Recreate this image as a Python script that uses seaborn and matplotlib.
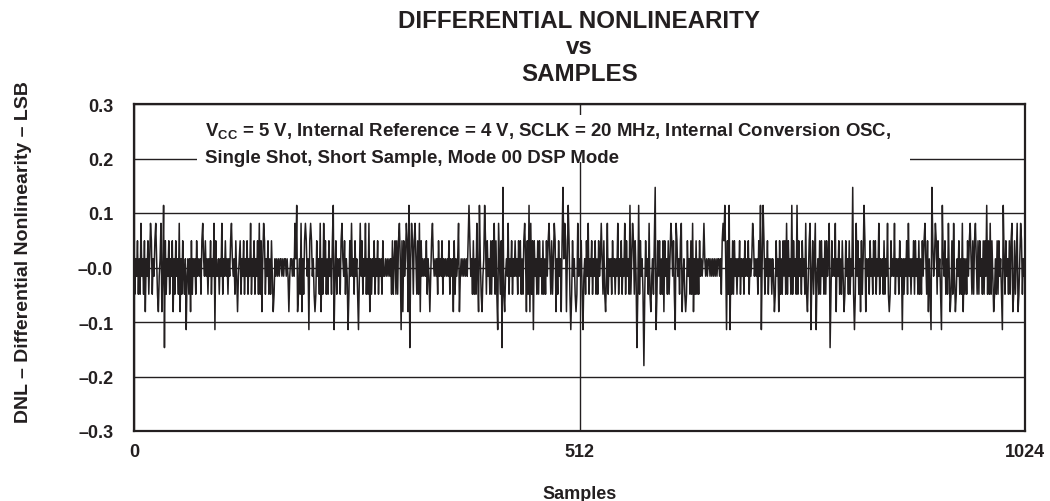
import numpy as np
import pandas as pd
import matplotlib
matplotlib.use("Agg")
import matplotlib.pyplot as plt
from matplotlib.patches import Rectangle
import seaborn as sns

# DNL level codes (quantised steps seen on the trace)
code_levels = {'0': -0.180, '1': -0.147, '2': -0.114, '3': -0.081, '4': -0.049,
               '5': -0.016, '6': 0.016, '7': 0.049, '8': 0.081, '9': 0.114, 'a': 0.147}

# background texture of the trace, 128 samples per segment
seg0 = ("74657464 75647465 74657465 74647564"
        "75647465 74657464 75647564 75467564"
        "65746564 75656474 65756465 74656475"
        "56465746 57564657 46564756 56746574")
seg1 = ("65746574 65746574 64756474 65746475"
        "74656565 66565665 65656656 56657464"
        "75647475 64747564 74756474 64757464"
        "75647465 74656475 65746564 75656475")
seg2 = ("64756574 65746475 64657465 74656475"
        "56565656 47467474 75647475 64747564"
        "74756474 64756565 74656575 65656475"
        "65746565 65746565 74656565 65656565")
seg3 = ("74756474 64757464 75647475 64747564"
        "74756474 64656574 65746575 64757464"
        "75647475 64747564 74756474 64757464"
        "74657464 75647465 74657464 75646475")
seg4 = ("65746564 75646574 65746475 65647465"
        "74656475 64657465 74656475 64746574"
        "75647475 64747564 74756474 64757464"
        "74756474 64757464 75647475 64747564")
seg5 = ("74756474 64756565 65656656 56565656"
        "65647475 64747564 74756465 74656475"
        "65746564 75656475 64657465 74656465"
        "74756474 64757464 75647475 64747564")
seg6 = ("75647465 74657464 75647475 64747564"
        "64756574 65746475 64756474 65746475"
        "74657465 74656475 64757465 74656474"
        "65746475 65746564 75656465 74656465")
seg7 = ("74756474 64757464 75647475 64747564"
        "74657464 75647465 74657464 75646475"
        "75647475 64747564 74756474 64757464"
        "74756474 64756474 75647465 74657465")

# larger excursions (sample index)
up_081 = [8, 19, 25, 31, 52, 79, 92, 101, 112, 134, 144, 149, 185, 192, 197, 203, 214,
          218, 239, 250, 260, 266, 270, 305, 313, 319, 323, 328, 343, 373, 394, 414, 419,
          430, 449, 456, 477, 483, 495, 510, 522, 537, 544, 556, 564, 573, 592, 617, 623,
          629, 642, 655, 677, 711, 750, 772, 777, 783, 799, 806, 830, 856, 866, 874, 890,
          909, 921, 936, 942, 952, 961, 967, 984, 1009, 1015, 1019]
dn_081 = [13, 28, 32, 45, 53, 65, 119, 147, 160, 178, 188, 193, 208, 215, 271, 309, 315,
          329, 340, 367, 374, 396, 400, 426, 451, 455, 485, 491, 497, 508, 542, 594, 609,
          630, 634, 643, 736, 741, 774, 807, 816, 835, 841, 868, 913, 938, 944, 953, 988,
          1010, 1016]
up_114 = [34, 187, 229, 316, 385, 397, 403, 454, 499, 570, 580, 679, 684, 720, 723, 756,
          762, 839, 929, 980, 999]
dn_114 = [60, 93, 201, 230, 246, 258, 307, 418, 459, 502, 516, 600, 622, 681, 685, 721,
          778, 784, 828, 883, 916, 928, 998]
up_147 = [424, 493, 599, 826, 917]
dn_147 = [35, 317, 423, 578, 800]
dn_180 = [586]

y_ticks = [-0.3, -0.2, -0.1, 0.0, 0.1, 0.2, 0.3]
y_labels = ['\u20130.3', '\u20130.2', '\u20130.1', '\u20130.0', '0.1', '0.2', '0.3']
x_ticks = [0, 512, 1024]

codes = "".join([seg0, seg1, seg2, seg3, seg4, seg5, seg6, seg7]).replace(" ", "")
dnl = np.array([code_levels[c] for c in codes])
for idx, lvl in [(up_081, '8'), (dn_081, '3'), (up_114, '9'), (dn_114, '2'),
                 (up_147, 'a'), (dn_147, '1'), (dn_180, '0')]:
    dnl[idx] = code_levels[lvl]
df = pd.DataFrame({'Samples': np.arange(len(dnl)), 'DNL': dnl})

sns.set_style("white")
plt.rcParams['font.family'] = ['Liberation Sans', 'DejaVu Sans']
plt.rcParams['font.weight'] = 'bold'
plt.rcParams['mathtext.fontset'] = 'custom'
plt.rcParams['mathtext.rm'] = 'Liberation Sans:bold'
plt.rcParams['mathtext.it'] = 'Liberation Sans:bold'
plt.rcParams['mathtext.bf'] = 'Liberation Sans:bold'

ink = '#231f20'
fig = plt.figure(figsize=(10.5, 5.02), dpi=100)
ax = fig.add_axes([134/1050, 1 - 432/502, 891/1050, 327/502])

sns.lineplot(data=df, x='Samples', y='DNL', color=ink, lw=1.1, ax=ax, zorder=3)

ax.set_xlim(0, 1024)
ax.set_ylim(-0.3, 0.3)
ax.set_xticks(x_ticks)
ax.set_yticks(y_ticks)
ax.set_yticklabels(y_labels)
ax.grid(True, color=ink, lw=1.0)
ax.set_axisbelow(True)
ax.tick_params(axis='both', length=0, labelsize=13, colors=ink)
ax.tick_params(axis='y', pad=15)
ax.tick_params(axis='x', pad=9)
for s in ax.spines.values():
    s.set_linewidth(1.6)
    s.set_color(ink)

ax.set_xlabel('Samples', fontsize=13, fontweight='bold', color=ink, labelpad=18)
ax.set_ylabel('DNL \u2013 Differential Nonlinearity \u2013 LSB', fontsize=14,
              fontweight='bold', color=ink)
ax.yaxis.set_label_coords(-0.115, 0.55)

ax.add_patch(Rectangle((0.0707, 0.823), 0.80, 0.143, transform=ax.transAxes,
                       facecolor='white', edgecolor='none', zorder=2))
ax.text(0.0797, 0.95,
        'V$_{\\mathrm{CC}}$ = 5 V, Internal Reference = 4 V, SCLK = 20 MHz, Internal Conversion OSC,\n'
        'Single Shot, Short Sample, Mode 00 DSP Mode',
        transform=ax.transAxes, ha='left', va='top', fontsize=13.4, fontweight='bold',
        color=ink, zorder=4, linespacing=1.65)

fig.text(579.5/1050, 1 - 48/502, 'DIFFERENTIAL NONLINEARITY\nvs\nSAMPLES',
         ha='center', va='center', fontsize=17.4, fontweight='bold', color=ink,
         linespacing=1.2)

plt.savefig('out.png', dpi=100)
